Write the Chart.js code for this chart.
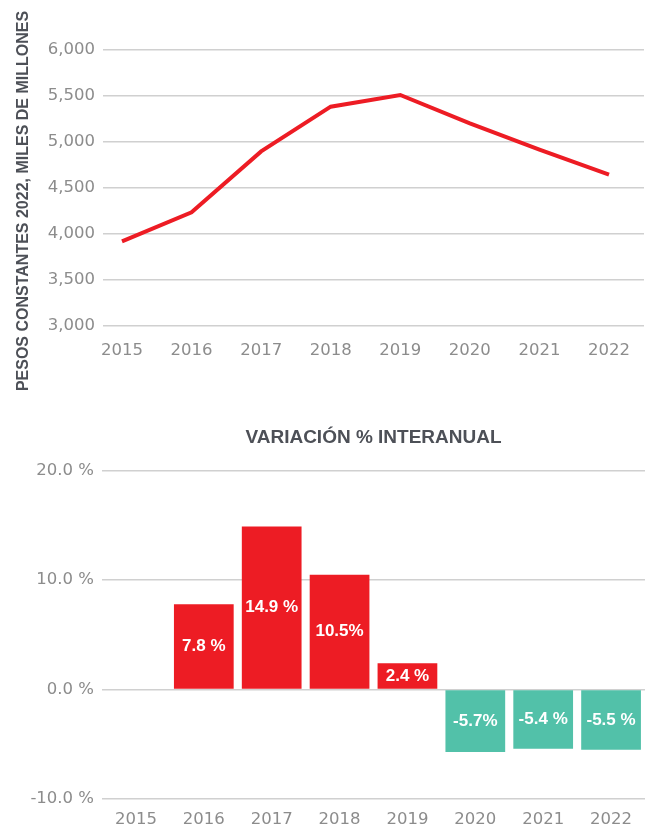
<!DOCTYPE html>
<html><head><meta charset="utf-8">
<script src="https://cdn.jsdelivr.net/npm/chart.js@4"></script>
<style>
html,body{margin:0;padding:0;background:#fff;}
#wrap{position:relative;width:652px;height:830px;overflow:hidden;}
#c1{position:absolute;left:0;top:0;}
#c2{position:absolute;left:0;top:405px;}
</style></head><body>
<div id="wrap">
<canvas id="c1" width="652" height="405"></canvas>
<canvas id="c2" width="652" height="425"></canvas>
</div>
<script>
// ---- data ----
const years = ['2015','2016','2017','2018','2019','2020','2021','2022'];
const yearNums = [2015,2016,2017,2018,2019,2020,2021,2022];
const pesos = [3920, 4236, 4898, 5384, 5511, 5203, 4916, 4645];
const pesosTicks = [3000, 3500, 4000, 4500, 5000, 5500, 6000];
const variacion = [null, 7.8, 14.9, 10.5, 2.4, -5.7, -5.4, -5.5];
const variacionLabels = ['', '7.8 %', '14.9 %', '10.5%', '2.4 %', '-5.7%', '-5.4 %', '-5.5 %'];
const variacionTicks = [-10, 0, 10, 20];
const axisTitle = 'PESOS CONSTANTES 2022, MILES DE MILLONES';
const barTitle = 'VARIACIÓN % INTERANUAL';

const RED = '#ED1C24';
const TEAL = '#52C1A9';
const TICK_COLOR = '#8c8c8c';
const GRID_COLOR = '#d0d0d0';
const TITLE_COLOR = '#4d5057';
const tickFont = {family: '"DejaVu Sans"', size: 16.5};

const axisTitlePlugin = {
  id: 'axisTitle',
  afterDraw(chart) {
    const ctx = chart.ctx;
    const a = chart.chartArea;
    ctx.save();
    ctx.translate(24, (a.top + a.bottom) / 2 + 13);
    ctx.rotate(-Math.PI / 2);
    ctx.font = 'bold 16px "Liberation Sans"';
    ctx.fillStyle = TITLE_COLOR;
    ctx.textAlign = 'center';
    ctx.textBaseline = 'middle';
    ctx.fillText(axisTitle, 0, 0);
    ctx.restore();
  }
};

new Chart(document.getElementById('c1'), {
  type: 'line',
  data: {
    datasets: [{
      data: yearNums.map((x, i) => ({x: x, y: pesos[i]})),
      borderColor: RED,
      borderWidth: 4,
      pointRadius: 0,
      tension: 0,
      fill: false
    }]
  },
  options: {
    responsive: false,
    animation: false,
    layout: {padding: {top: 50, right: 8, left: 0, bottom: 0}},
    plugins: {legend: {display: false}, tooltip: {enabled: false}},
    scales: {
      x: {
        type: 'linear',
        min: 2014.727, max: 2022.503,
        afterBuildTicks: s => { s.ticks = yearNums.map(v => ({value: v})); },
        afterFit: s => { s.height = 79; },
        grid: {display: false, drawTicks: false},
        border: {display: false},
        ticks: {padding: 15, font: tickFont, color: TICK_COLOR, maxRotation: 0, autoSkip: false,
                callback: (v) => String(v)}
      },
      y: {
        min: 3000, max: 6000,
        afterBuildTicks: s => { s.ticks = pesosTicks.map(v => ({value: v})); },
        afterFit: s => { s.width = 103; },
        grid: {color: GRID_COLOR, lineWidth: 1.5, drawTicks: false},
        border: {display: false},
        ticks: {padding: 8, font: tickFont, color: TICK_COLOR,
                callback: (v) => v.toLocaleString('en-US')}
      }
    }
  },
  plugins: [axisTitlePlugin]
});

const barLabelPlugin = {
  id: 'barLabels',
  afterDatasetsDraw(chart) {
    const ctx = chart.ctx;
    const meta = chart.getDatasetMeta(0);
    ctx.save();
    ctx.font = 'bold 17px "Liberation Sans"';
    ctx.fillStyle = '#ffffff';
    ctx.textAlign = 'center';
    ctx.textBaseline = 'middle';
    meta.data.forEach((el, i) => {
      if (variacion[i] === null) return;
      ctx.fillText(variacionLabels[i], el.x, (el.y + el.base) / 2);
    });
    ctx.restore();
  }
};

new Chart(document.getElementById('c2'), {
  type: 'bar',
  data: {
    labels: years,
    datasets: [{
      data: variacion,
      backgroundColor: variacion.map(v => (v !== null && v < 0) ? TEAL : RED),
      borderWidth: 0,
      barPercentage: 0.88,
      categoryPercentage: 1.0
    }]
  },
  options: {
    responsive: false,
    animation: false,
    layout: {padding: {top: 0, right: 7, left: 0, bottom: 0}},
    plugins: {
      legend: {display: false},
      tooltip: {enabled: false},
      title: {
        display: true,
        text: barTitle,
        fullSize: false,
        color: TITLE_COLOR,
        font: {family: '"Liberation Sans"', weight: 'bold', size: 19},
        padding: {top: 21, bottom: 22}
      }
    },
    scales: {
      x: {
        afterFit: s => { s.height = 31; },
        grid: {display: false, drawTicks: false},
        border: {display: false},
        ticks: {padding: 11, font: tickFont, color: TICK_COLOR, maxRotation: 0, autoSkip: false}
      },
      y: {
        min: -10, max: 20,
        afterBuildTicks: s => { s.ticks = variacionTicks.map(v => ({value: v})); },
        afterFit: s => { s.width = 102; },
        grid: {color: GRID_COLOR, lineWidth: 1.5, drawTicks: false},
        border: {display: false},
        ticks: {padding: 8, font: tickFont, color: TICK_COLOR,
                callback: (v) => v.toFixed(1) + ' %'}
      }
    }
  },
  plugins: [barLabelPlugin]
});
</script>
</body></html>
